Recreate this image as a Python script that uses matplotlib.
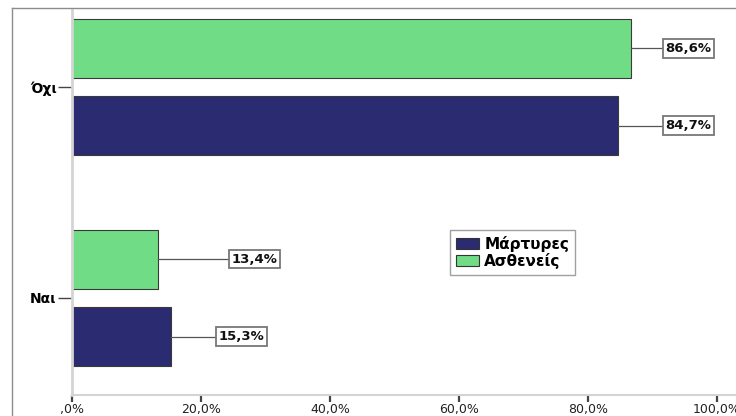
import matplotlib
matplotlib.use("Agg")
import matplotlib.pyplot as plt
from matplotlib.lines import Line2D
from matplotlib.patches import Patch

plt.rcParams['font.family'] = ['DejaVu Sans']

categories = ["Ναι", "Όχι"]
series_names = ["Μάρτυρες", "Ασθενείς"]
martyres = [15.3, 84.7]
astheneis = [13.4, 86.6]
xticks = [0, 20, 40, 60, 80, 100]
xtick_labels = [",0%", "20,0%", "40,0%", "60,0%", "80,0%", "100,0%"]

navy = "#2A2B70"
green = "#70DD86"

W, H = 736, 416
fig = plt.figure(figsize=(W / 100, H / 100), dpi=100)
ax = fig.add_axes([72 / W, 21 / H, 664 / W, 385 / H])

bar_h = 0.28
off = 0.183
ypos = list(range(len(categories)))
b_m = ax.barh([y - off for y in ypos], martyres, height=bar_h, color=navy,
              edgecolor="#3a3a3a", linewidth=0.8)
b_a = ax.barh([y + off for y in ypos], astheneis, height=bar_h, color=green,
              edgecolor="#3a3a3a", linewidth=0.8)

ax.set_xlim(0, 664 / 6.45)
ax.set_ylim(-0.46, 1.365)

# value labels in boxes, joined to the bar ends by leader lines
label_x = {("m", 0): 22.3, ("a", 0): 24.3, ("m", 1): 91.6, ("a", 1): 91.6}
for key, vals, bars in (("m", martyres, b_m), ("a", astheneis, b_a)):
    for i, (v, bar) in enumerate(zip(vals, bars)):
        yc = bar.get_y() + bar.get_height() / 2
        lx = label_x[(key, i)]
        ax.plot([v, lx], [yc, yc], color="#555555", lw=0.9, zorder=3)
        txt = f"{v:.1f}".replace(".", ",") + "%"
        ax.text(lx + 0.45, yc, txt, ha="left", va="center",
                fontsize=9.5, fontweight="bold", color="#111111", zorder=4,
                bbox=dict(boxstyle="square,pad=0.2", fc="white",
                          ec="#777777", lw=1.3))

ax.set_yticks(ypos)
ax.set_yticklabels(categories, fontsize=10, fontweight="bold")
ax.set_xticks(xticks)
ax.set_xticklabels(xtick_labels, fontsize=9, color="#222222")
ax.tick_params(axis="x", length=5, width=1.6, color="#444444", pad=1)
ax.tick_params(axis="y", length=10, width=1.0, color="#444444", pad=1)

for s in ("top", "right"):
    ax.spines[s].set_visible(False)
ax.spines["left"].set_color("#d4d4d4")
ax.spines["left"].set_linewidth(2.0)
ax.spines["bottom"].set_color("#d4d4d4")
ax.spines["bottom"].set_linewidth(1.5)

handles = [Patch(facecolor=navy, edgecolor="#333333", lw=0.8),
           Patch(facecolor=green, edgecolor="#333333", lw=0.8)]
leg = ax.legend(handles, series_names, loc="upper left",
                bbox_to_anchor=((450 - 72) / 664, (395 - 230) / 385),
                prop=dict(size=11, weight="bold"), frameon=True,
                fancybox=False, handlelength=1.5, handleheight=0.75,
                handletextpad=0.35, labelspacing=0.05, borderpad=0.4,
                borderaxespad=0)
leg.get_frame().set_edgecolor("#888888")
leg.get_frame().set_linewidth(1.0)

# outer chart frame
fig.add_artist(Line2D([12 / W, 12 / W], [0, (H - 8) / H], color="#8c8c8c", lw=1.0))
fig.add_artist(Line2D([12 / W, 1], [(H - 8) / H, (H - 8) / H], color="#8c8c8c", lw=1.0))

fig.savefig("out.png", dpi=100)
